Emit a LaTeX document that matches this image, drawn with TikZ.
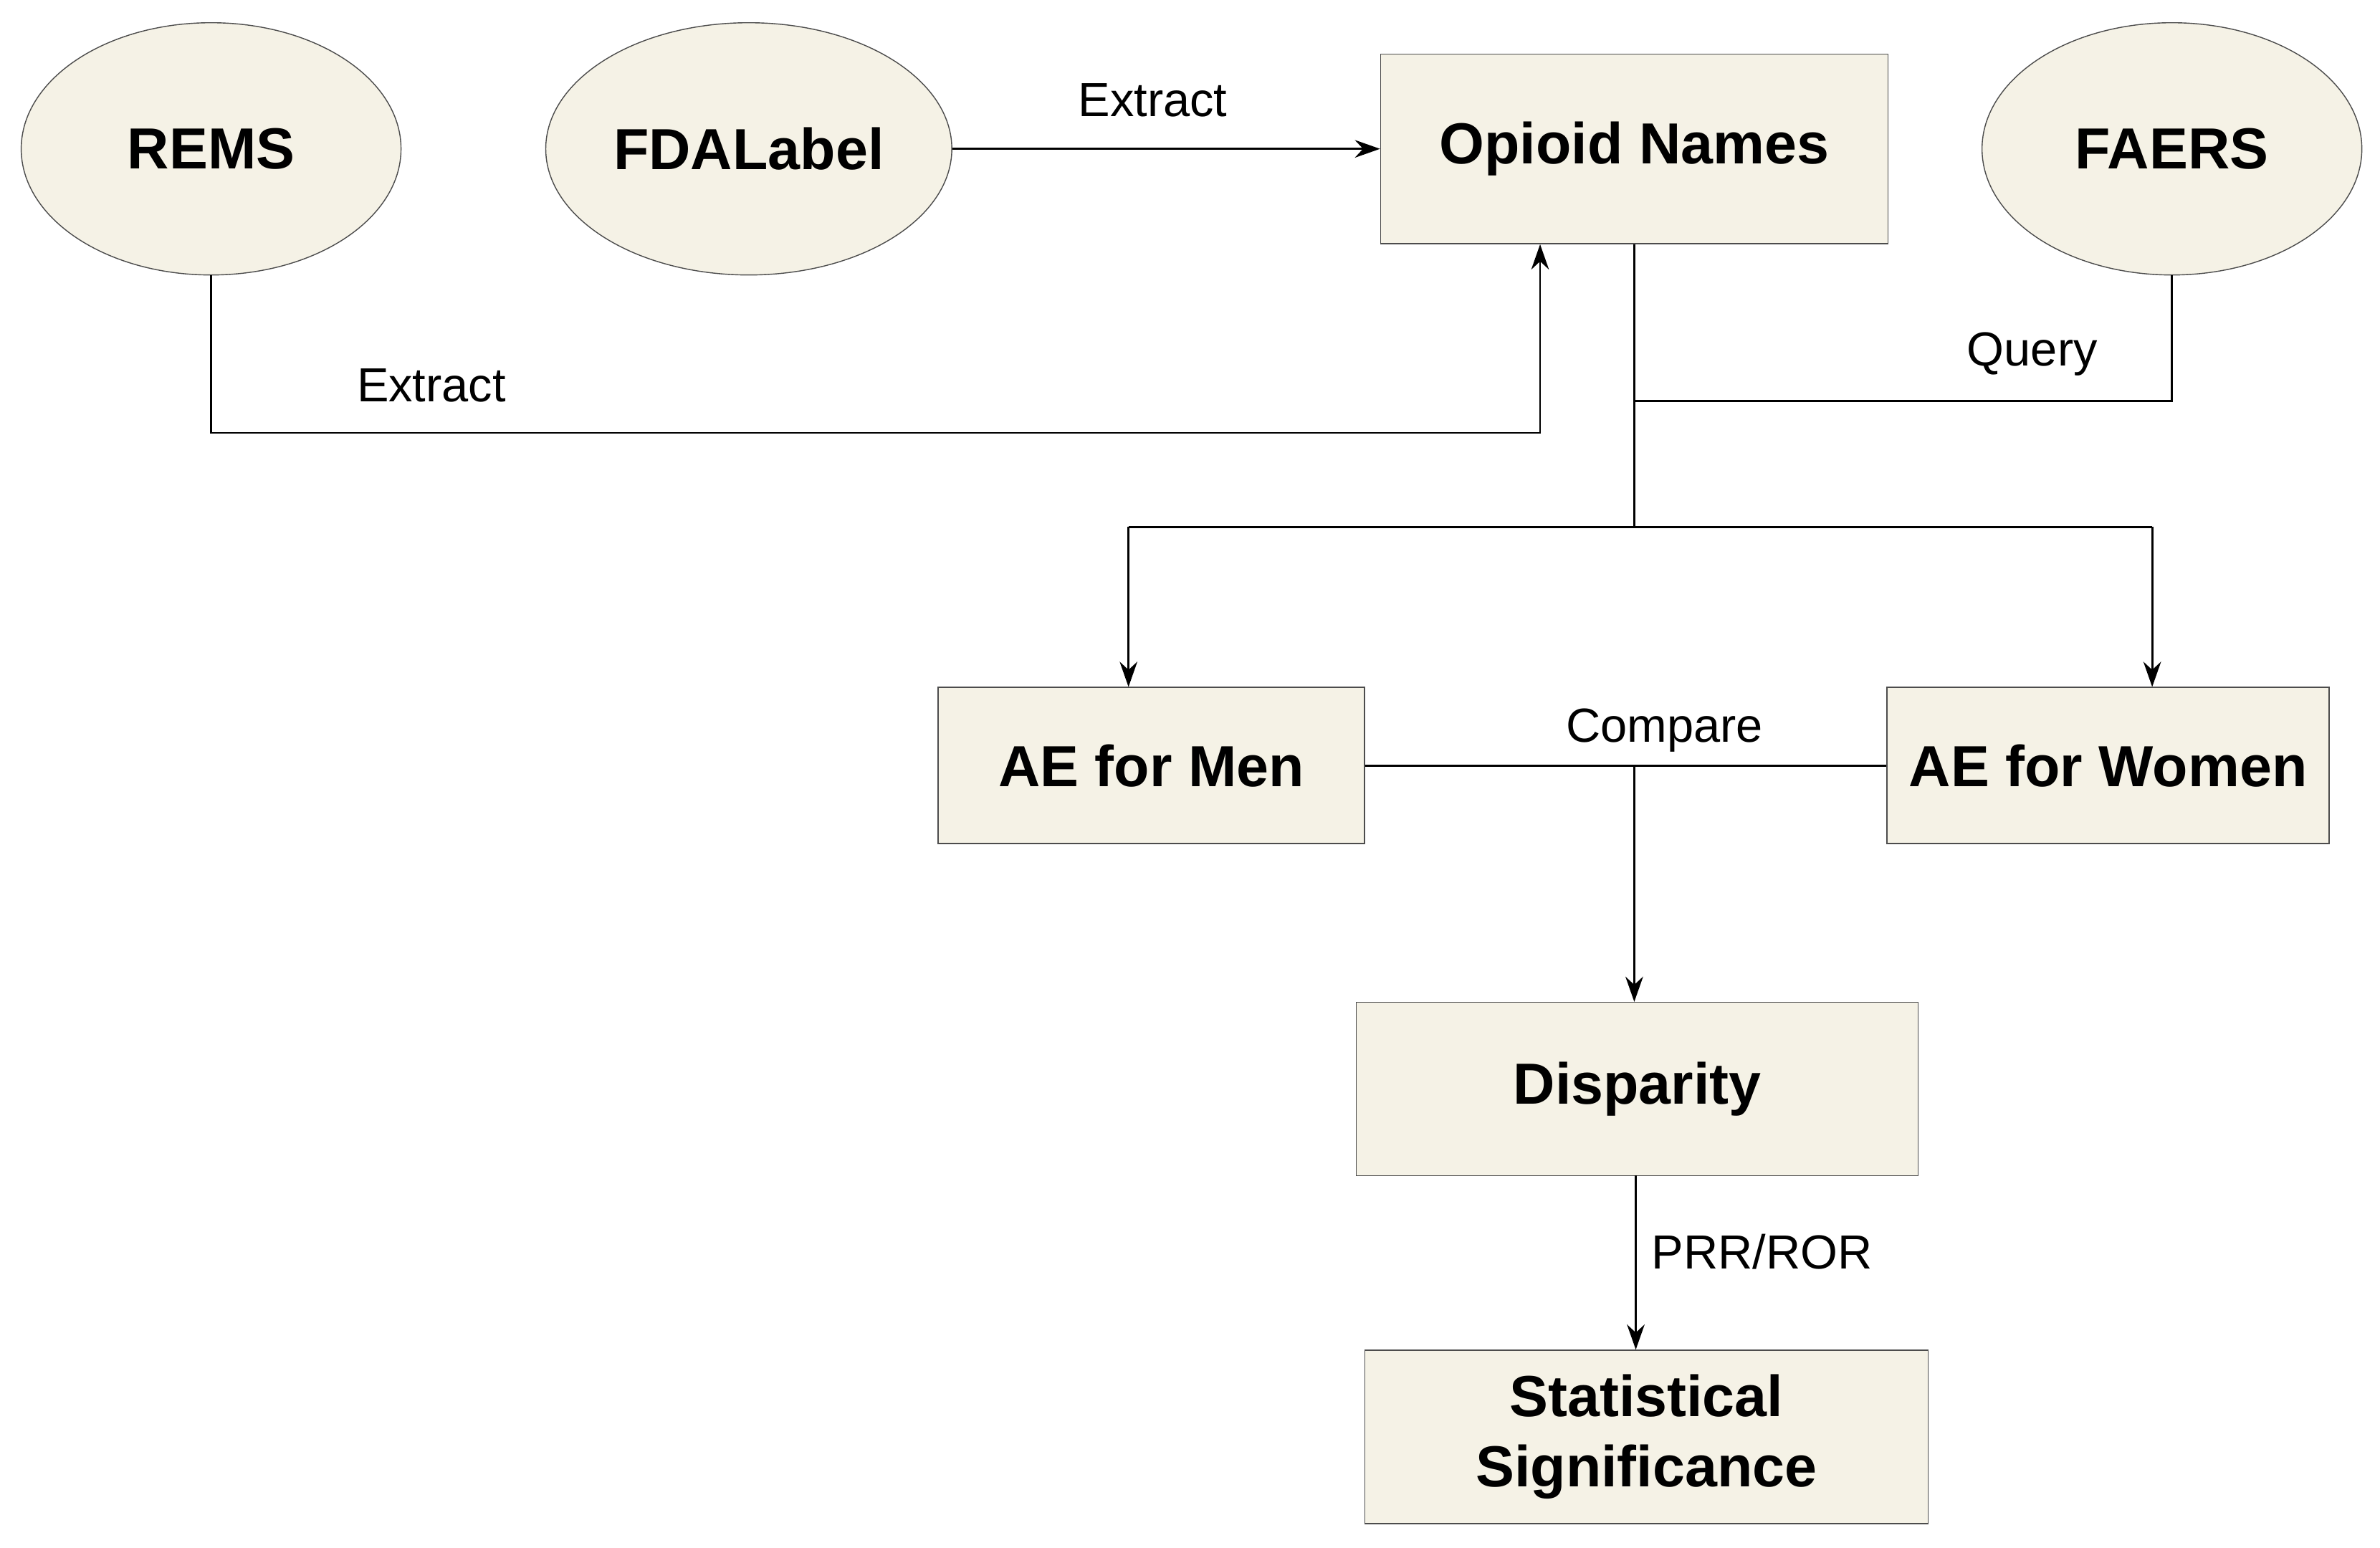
\documentclass[tikz,border=0pt]{standalone}
\usepackage{fontspec}
\setmainfont{Liberation Sans}
\usetikzlibrary{shapes.geometric,arrows.meta}
\definecolor{boxfill}{HTML}{F5F2E6}
\tikzset{
  src/.style={ellipse, draw=black!70, fill=boxfill, minimum width=5.3cm, minimum height=3.52cm, font=\fontsize{23}{26}\selectfont\bfseries},
  box/.style={rectangle, draw=black!70, fill=boxfill, inner sep=0pt, font=\fontsize{23}{28}\selectfont\bfseries, align=center},
  lbl/.style={font=\fontsize{19}{22}\selectfont},
  flow/.style={thick, -{Stealth[length=10pt,width=7pt]}},
}
\begin{document}
\begin{tikzpicture}[x=0.02119cm, y=-0.02119cm]
  \useasboundingbox (0,0) rectangle (1567,1019);
  %% sources
  \node[src] (rems) at (139,98) {REMS};
  \node[src] (fda) at (493,98) {FDALabel};
  \node[src] (faers) at (1430,98) {FAERS};
  \node[box, minimum width=7.08cm, minimum height=2.65cm] (opioid) at (1076,98) {Opioid Names};

  %% groups
  \node[box, minimum width=5.95cm, minimum height=2.18cm] (men) at (758,504) {AE for Men};
  \node[box, minimum width=6.17cm, minimum height=2.18cm] (women) at (1388,504) {AE for Women};
  \node[box, minimum width=7.84cm, minimum height=2.42cm] (disp) at (1078,717) {Disparity};
  \node[box, minimum width=7.86cm, minimum height=2.42cm] (stat) at (1084,946) {Statistical\\Significance};

  %% bends
  \coordinate (rb) at (139,285);
  \coordinate (ob) at (1014,285);
  \coordinate (q) at (1076,264);
  \coordinate (fb) at (1430,264);
  \coordinate (split) at (1076,347);
  \coordinate (ml) at (743,347);
  \coordinate (mr) at (1417,347);
  \coordinate (cmp) at (1076,504);
  \coordinate (pr) at (1077,774);

  %% connectors
  \draw[flow] (fda) -- (opioid);
  \node[lbl] at (759,66) {Extract};
  \draw[flow] (rems.south) -- (rb) -- (ob) -- (ob |- opioid.south);
  \node[lbl] at (284,254) {Extract};
  \draw[thick] (faers.south) -- (fb) -- (q);
  \node[lbl] at (1338,233) {Query};
  \draw[thick] (opioid.south) -- (split);
  \draw[thick] (ml) -- (mr);
  \draw[flow] (ml) -- (ml |- men.north);
  \draw[flow] (mr) -- (mr |- women.north);
  \draw[thick] (men) -- (women);
  \node[lbl] at (1096,481) {Compare};
  \draw[flow] (cmp) -- (cmp |- disp.north);
  \draw[flow] (pr) -- (pr |- stat.north);
  \node[lbl] at (1160,824) {PRR/ROR};
\end{tikzpicture}
\end{document}
